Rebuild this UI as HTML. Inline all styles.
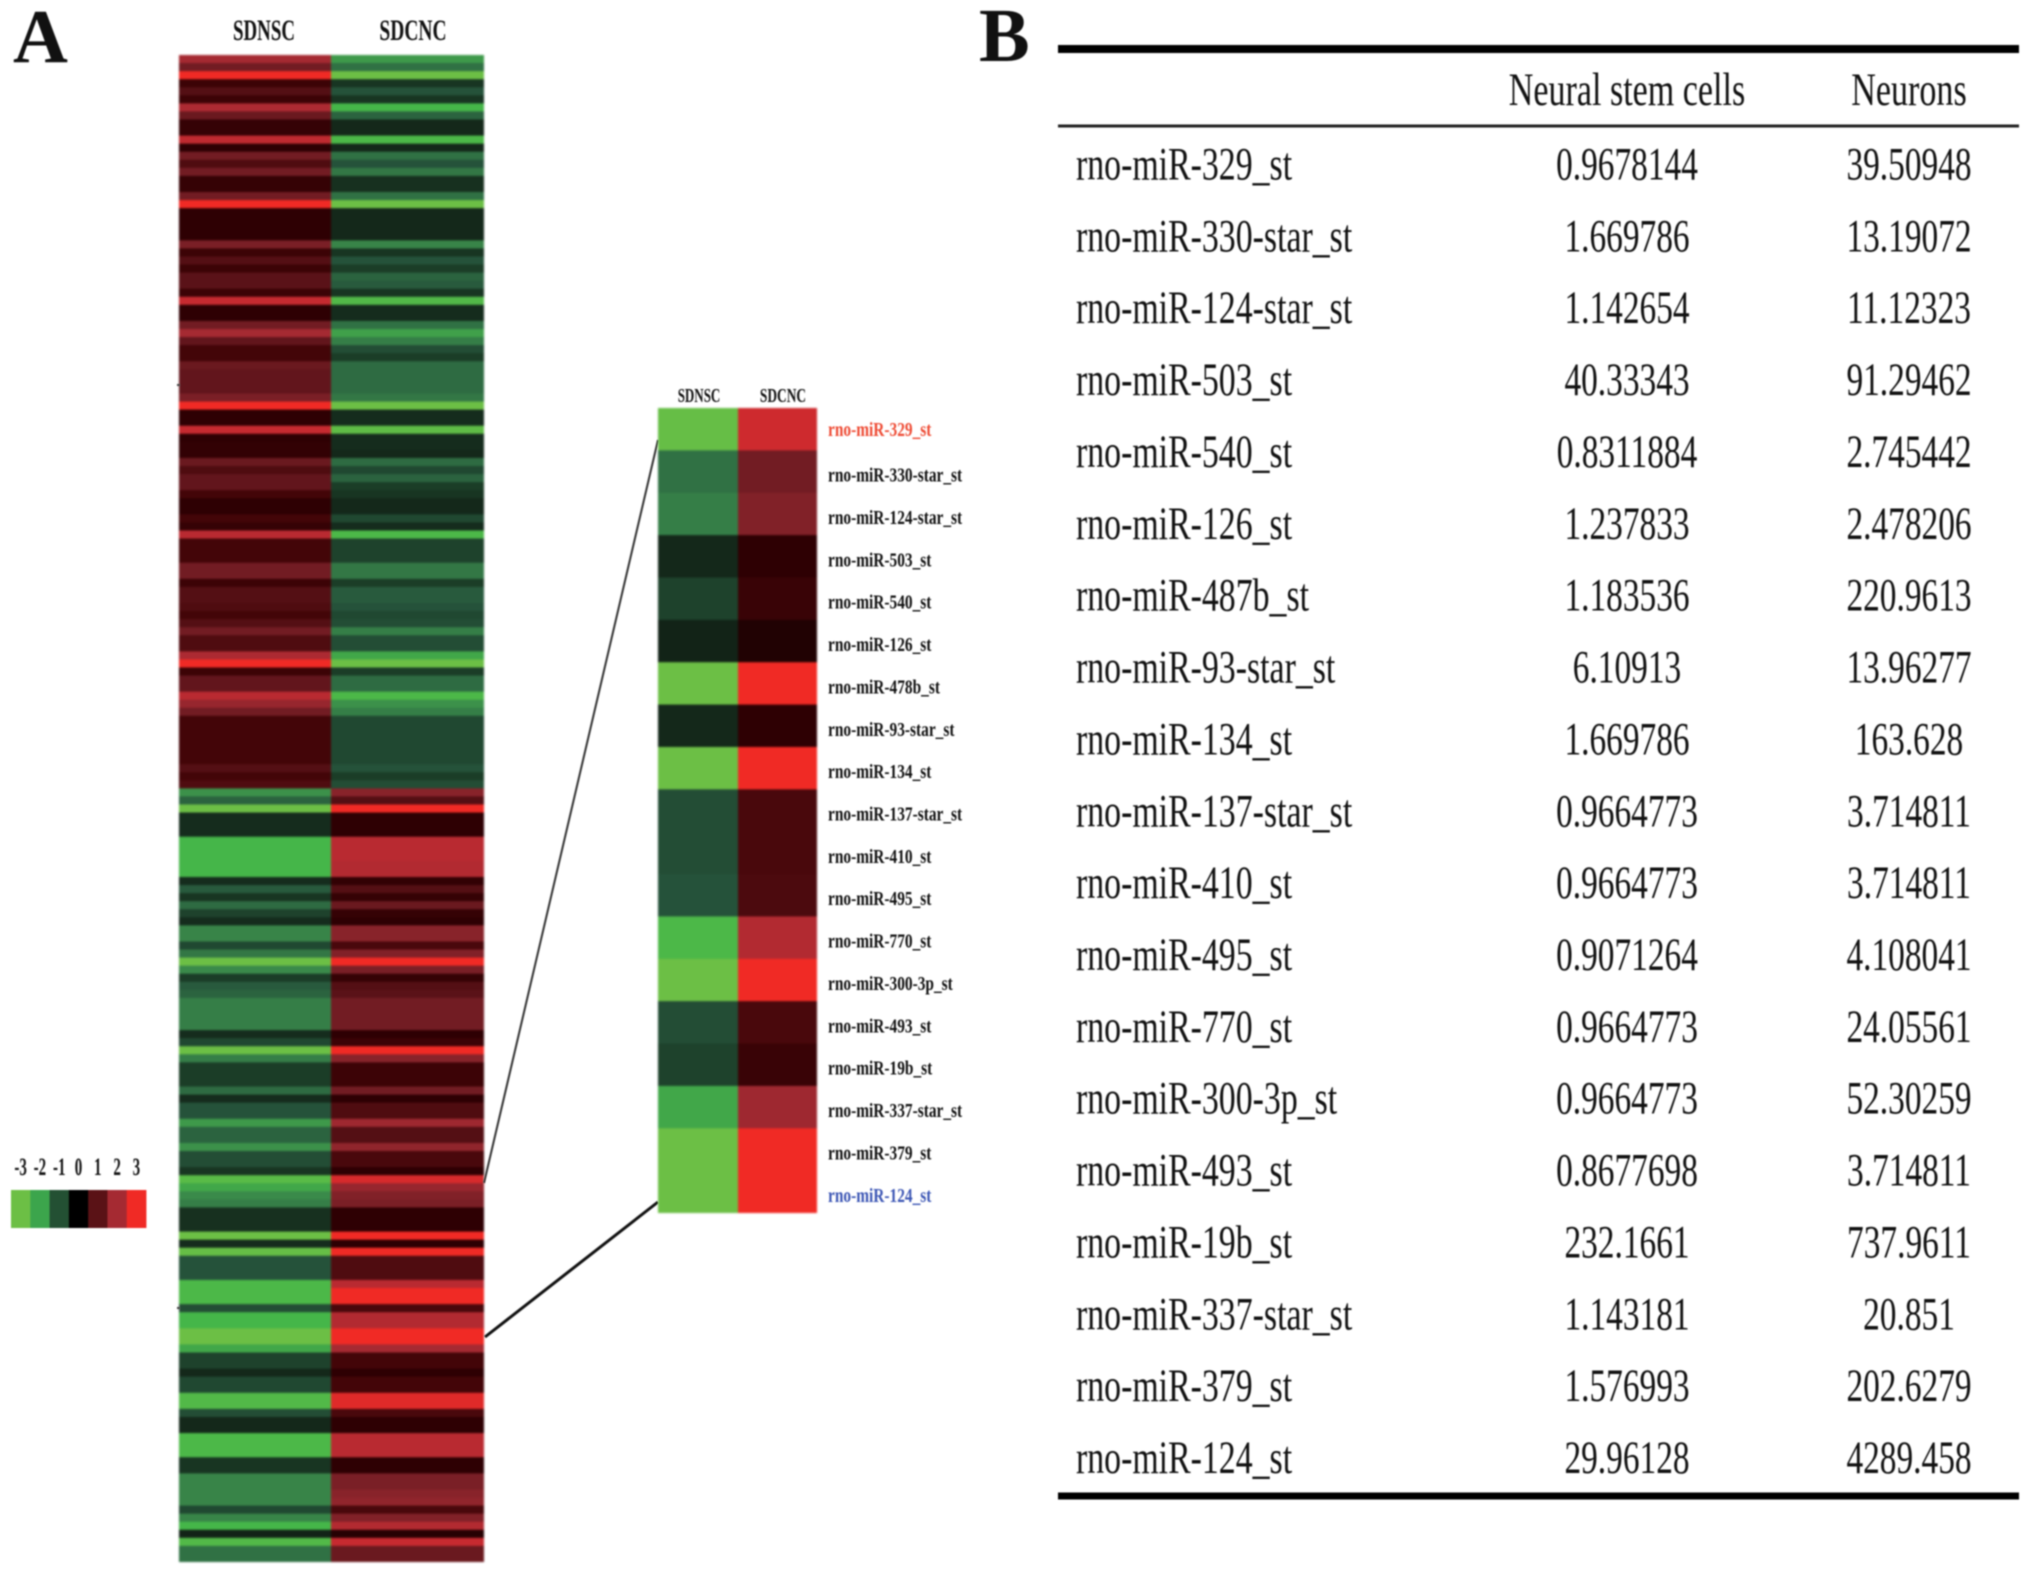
<!DOCTYPE html>
<html lang="en">
<head>
<meta charset="utf-8">
<title>miRNA heatmap and expression table</title>
<style>
html,body{margin:0;padding:0;background:#fff;width:2031px;height:1574px;overflow:hidden}
svg{display:block;position:absolute;left:0;top:0}
text{font-family:"Liberation Serif",serif;fill:#111}
.soft{filter:blur(.7px)}
.softer{filter:blur(1px)}
</style>
</head>
<body>
<svg id="fig" width="2031" height="1574" viewBox="0 0 2031 1574" xmlns="http://www.w3.org/2000/svg">
  <rect width="2031" height="1574" fill="#fff"/>
  <g class="soft">
    <text x="13" y="62" font-size="76" font-weight="bold">A</text>
    <text x="979" y="61" font-size="76" font-weight="bold">B</text>
  </g>
  <g id="mainHeat" class="softer"></g>
  <g id="mainHead" class="soft"></g>
  <g class="soft">
    <line x1="177" y1="385" x2="180" y2="385" stroke="#444" stroke-width="2"/>
    <line x1="177" y1="1308" x2="180" y2="1308" stroke="#444" stroke-width="2"/>
  </g>
  <g class="soft">
    <line x1="484" y1="1183" x2="658" y2="440" stroke="#333" stroke-width="2"/>
    <line x1="485" y1="1337" x2="658" y2="1202" stroke="#111" stroke-width="3"/>
  </g>
  <g id="insetHeat" class="softer"></g>
  <g id="insetHead" class="soft"></g>
  <g id="insetLabels" class="soft"></g>
  <g id="legend" class="soft"></g>
  <g id="table" class="soft">
    <rect x="1058" y="45" width="961" height="8" fill="#000"/>
    <rect x="1058" y="124.5" width="961" height="3" fill="#222"/>
    <rect x="1058" y="1492.5" width="961" height="7" fill="#000"/>
  </g>
</svg>
<script>
// ---- Main heatmap data (row order top to bottom) ----
const mainColumns = ["SDNSC", "SDCNC"];
const mainSdnsc = [
 2,1.3,3,.5,.9,.5,2.1,1.2,.4,.4,
 2.4,.3,1.3,.8,1.3,.4,.4,1.3,3,.3,
 .3,.3,.3,1.4,.5,.9,.5,1,1,.5,
 2.5,.3,.3,1.3,2,1.1,.6,.6,1.2,1.1,
 1.1,1.1,1.4,3,.3,.3,2.5,.3,.35,.35,
 1.2,.8,1.1,1.1,.6,.3,.3,.6,.4,2.3,
 .6,.6,.6,1.3,1.3,.5,.9,.9,.8,.6,
 .9,1.3,.8,.8,2.1,3,.5,1.1,1.1,2.3,
 1.8,1.3,.6,.6,.6,.6,.6,.6,.9,.6,
 .8,-1.9,-1.2,-3,-.4,-.4,-.4,-2.4,-2.4,-2.4,
 -2.4,-2.4,-.4,-1.1,-.5,-1.3,-.7,-.4,-1.7,-1.7,
 -.8,-1.5,-3,-1.8,-.6,-1.1,-1.2,-1.6,-1.6,-1.6,
 -1.6,-.4,-.8,-3,-1.6,-.6,-.6,-.6,-1.3,-.4,
 -1,-1,-2,-1.2,-1.2,-1.9,-.9,-.9,-.5,-2.7,
 -2.2,-1.8,-1.6,-.45,-.45,-.45,-3,-.4,-2.9,-1,
 -1,-1,-2.5,-2.5,-2.5,-.9,-2.4,-2.4,-3,-3,
 -2.2,-.7,-.7,-.35,-.8,-.8,-2.6,-2.6,-.9,-.35,
 -.35,-2.5,-2.5,-2.5,-.5,-.5,-1.7,-1.7,-1.7,-1.7,
 -.8,-1.7,-2.4,-.3,-2.6,-1.4,-1.4
];
const mainSdcnc = [
 -2,-1.4,-3,-.5,-1,-.5,-2.4,-1.2,-.35,-.35,
 -2.5,-.35,-1.4,-1,-1.5,-.45,-.45,-1.4,-3,-.35,
 -.35,-.35,-.35,-1.7,-.5,-1,-.6,-1.2,-1.1,-.5,
 -2.6,-.4,-.4,-1.4,-2.1,-1.6,-.9,-.6,-1.3,-1.3,
 -1.3,-1.3,-1.5,-3,-.4,-.4,-2.8,-.4,-.4,-.35,
 -1.3,-.8,-1.2,-.6,-.5,-.35,-.35,-.8,-.4,-2.5,
 -.7,-.7,-.7,-1.5,-1.5,-.6,-1.1,-1.1,-1,-.8,
 -.9,-1.6,-.9,-.9,-2.2,-3,-.6,-1.3,-1.3,-2.5,
 -1.9,-1.6,-.8,-.8,-.8,-.8,-.8,-.8,-1,-.6,
 -.9,1.6,.9,3,.3,.3,.3,2.3,2.3,2.3,
 2.2,2.2,.35,.9,.4,1.2,.4,.3,1.6,1.6,
 .7,1.5,3,1.4,.4,.9,1,1.3,1.3,1.3,
 1.3,.3,.5,3,1.6,.5,.5,.5,1.3,.3,
 .8,.8,1.9,.9,.9,1.7,.7,.7,.3,2.7,
 1.8,1.5,1.4,.3,.3,.3,3,.3,3,.8,
 .8,.8,2.3,3,3,.7,2.2,2.2,3,3,
 2,.6,.6,.3,.6,.6,2.8,2.8,.7,.3,
 .3,2.3,2.3,2.3,.3,.3,1.4,1.4,1.6,1.7,
 .7,1.5,2.2,.25,2.5,1.2,1.2
];

// ---- Inset heatmap data ----
const insetRows = ["rno-miR-329_st","rno-miR-330-star_st","rno-miR-124-star_st","rno-miR-503_st","rno-miR-540_st","rno-miR-126_st","rno-miR-478b_st","rno-miR-93-star_st","rno-miR-134_st","rno-miR-137-star_st","rno-miR-410_st","rno-miR-495_st","rno-miR-770_st","rno-miR-300-3p_st","rno-miR-493_st","rno-miR-19b_st","rno-miR-337-star_st","rno-miR-379_st","rno-miR-124_st"];
const insetSdnsc = [-2.9,-1.4,-1.6,-.35,-.7,-.3,-3,-.35,-3,-.9,-.9,-1,-2.5,-3,-.9,-.7,-2.2,-3,-3];
const insetSdcnc = [2.6,1.3,1.5,.3,.45,.2,3,.3,3,.7,.7,.75,2.2,3,.7,.45,1.9,3,3];

// ---- Legend data ----
const legendTicks = [-3,-2,-1,0,1,2,3];

// ---- Table data ----
const tableHeader = ["Neural stem cells","Neurons"];
const tableRows = ["rno-miR-329_st","rno-miR-330-star_st","rno-miR-124-star_st","rno-miR-503_st","rno-miR-540_st","rno-miR-126_st","rno-miR-487b_st","rno-miR-93-star_st","rno-miR-134_st","rno-miR-137-star_st","rno-miR-410_st","rno-miR-495_st","rno-miR-770_st","rno-miR-300-3p_st","rno-miR-493_st","rno-miR-19b_st","rno-miR-337-star_st","rno-miR-379_st","rno-miR-124_st"];
const tableNsc = ["0.9678144","1.669786","1.142654","40.33343","0.8311884","1.237833","1.183536","6.10913","1.669786","0.9664773","0.9664773","0.9071264","0.9664773","0.9664773","0.8677698","232.1661","1.143181","1.576993","29.96128"];
const tableNeurons = ["39.50948","13.19072","11.12323","91.29462","2.745442","2.478206","220.9613","13.96277","163.628","3.714811","3.714811","4.108041","24.05561","52.30259","3.714811","737.9611","20.851","202.6279","4289.458"];

// ---- Colour scale ----
const scaleStops = [-3,-2.4,-1.8,-1.3,-1,-.6,-.35,0,.3,.6,1,1.4,2,2.5,3];
const scaleColors = [[108,191,69],[69,182,73],[58,138,74],[46,107,66],[37,82,58],[27,61,39],[20,40,26],[6,6,4],[46,0,3],[67,5,8],[90,18,24],[122,31,38],[165,42,50],[198,42,48],[240,42,37]];
function colorScale(v){
  if(v<=scaleStops[0]) return rgb(scaleColors[0]);
  for(let i=1;i<scaleStops.length;i++){
    if(v<=scaleStops[i]){
      const t=(v-scaleStops[i-1])/(scaleStops[i]-scaleStops[i-1]);
      const a=scaleColors[i-1], b=scaleColors[i];
      return rgb([a[0]+(b[0]-a[0])*t,a[1]+(b[1]-a[1])*t,a[2]+(b[2]-a[2])*t]);
    }
  }
  return rgb(scaleColors[scaleColors.length-1]);
}
function rgb(c){return "rgb("+c.map(Math.round).join(",")+")";}

const NS="http://www.w3.org/2000/svg";
function make(tag,parent,attrs){
  const el=document.createElementNS(NS,tag);
  for(const k in attrs) el.setAttribute(k,attrs[k]);
  parent.appendChild(el);
  return el;
}

// ---- Axis functions ----
function bandScale(count,start,end){
  const step=(end-start)/count;
  const f=i=>start+i*step;
  f.step=step;
  return f;
}

function drawHeat(parent,a,b,yS,xA,xMid,xB){
  a.forEach(function(v,i){
    const cell=make("rect",parent,{x:xA,y:yS(i),width:xMid-xA,height:yS.step+(i<a.length-1?.4:0),fill:colorScale(v)});
    
    
  });
  b.forEach(function(v,i){
    const cell=make("rect",parent,{x:xMid,y:yS(i),width:xB-xMid,height:yS.step+(i<b.length-1?.4:0),fill:colorScale(v)});
    
    
  });
}

function squeezed(parent,x,y,sx,size,weight,anchor,str,fill){
  const t=make("text",parent,{transform:"translate("+x+","+y+") scale("+sx+",1)","font-size":size,"font-weight":weight,"text-anchor":anchor});
  if(fill) t.style.fill=fill;
  t.textContent=str;
  return t;
}

// Main heatmap
const mainY=bandScale(mainSdnsc.length,55,1562);
drawHeat(document.getElementById("mainHeat"),mainSdnsc,mainSdcnc,mainY,179,331,484);
const mainHead=document.getElementById("mainHead");
const mainHeadA=squeezed(mainHead,264,40,.63,30,"bold","middle",mainColumns[0]);


const mainHeadB=squeezed(mainHead,413,40,.65,30,"bold","middle",mainColumns[1]);



// Inset heatmap
const insetY=bandScale(insetRows.length,408,1213);
drawHeat(document.getElementById("insetHeat"),insetSdnsc,insetSdcnc,insetY,658,738,817);
const insetHead=document.getElementById("insetHead");
const insetHeadA=squeezed(insetHead,699,402,.65,20,"bold","middle",mainColumns[0]);


const insetHeadB=squeezed(insetHead,783,402,.67,20,"bold","middle",mainColumns[1]);


const insetLabels=document.getElementById("insetLabels");
insetRows.forEach(function(name,i){
  const mid=insetY(i)+insetY.step/2;
  const dy=i===0?7:10;
  const color=i===0?"#ee4a33":(i===insetRows.length-1?"#3b55b4":"#111");
  const lab=squeezed(insetLabels,828,mid+dy,.77,20,"bold","start",name,color);
  
  
});

// Legend
const legend=document.getElementById("legend");
const legendX=bandScale(legendTicks.length,11,146);
const legendColors=["#6cbf45","#3ca54c","#235033","#000000","#5a1216","#a52a32","#f02a25"];
legendTicks.forEach(function(v,i){
  const sw=make("rect",legend,{x:legendX(i),y:1190,width:legendX.step+.4,height:38,fill:legendColors[i]});
  
  
  const tx=squeezed(legend,legendX(i)+legendX.step/2,1175,.6,25,"bold","middle",String(v));
  
  
});

// Table
const table=document.getElementById("table");
const tableY=bandScale(18,179.5,1473);
const colCenters=[1627,1909];
tableHeader.forEach(function(h,j){
  const th=squeezed(table,colCenters[j],105,.725,47,"normal","middle",h);
  
  
});
tableRows.forEach(function(name,i){
  const y=tableY(i);
  const c0=squeezed(table,1076,y,.72,47,"normal","start",name);
  
  
  const c1=squeezed(table,colCenters[0],y,.71,47,"normal","middle",tableNsc[i]);
  
  
  const c2=squeezed(table,colCenters[1],y,.71,47,"normal","middle",tableNeurons[i]);
  
  
});
</script>
</body>
</html>
